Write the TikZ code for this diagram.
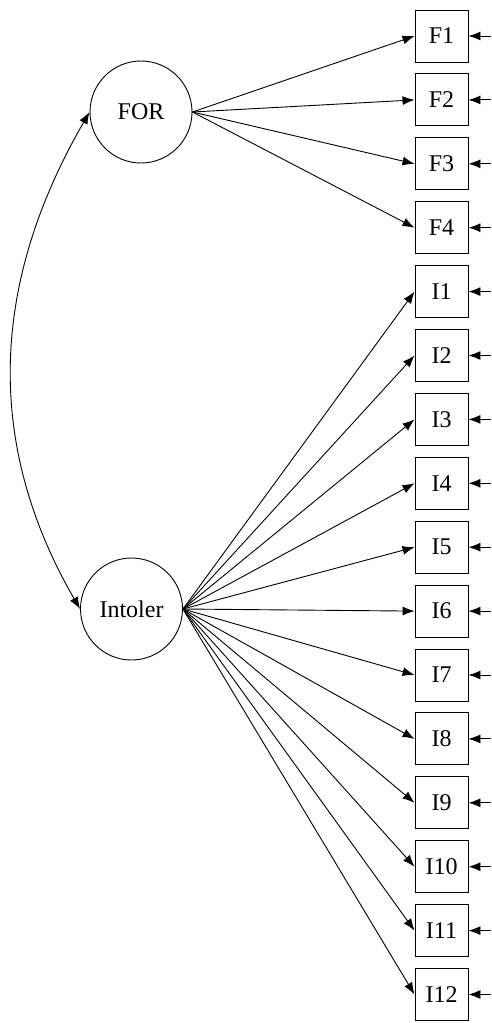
\documentclass[tikz,border=0pt]{standalone}
\usepackage{fontspec}
\setmainfont{Liberation Serif}
\usetikzlibrary{arrows.meta}

\begin{document}
\begin{tikzpicture}[x=1pt,y=-1pt,line width=0.9pt,
        latent/.style={circle,draw,minimum size=102pt,inner sep=0pt,font=\fontsize{24}{24}\selectfont},
        indicator/.style={rectangle,draw,minimum width=53pt,minimum height=52pt,inner sep=0pt,font=\fontsize{24}{24}\selectfont},
        >={Latex[length=12pt,width=9pt]}]
        \useasboundingbox (0,0) rectangle (491,1023);
        % latent factors
        \node[latent] (FOR) at (141,112) {FOR};
        \node[latent] (Intoler) at (131.5,609) {Intoler};
        \draw[<->] (FOR.west) to[out=240,in=120,looseness=1] (Intoler.west);
        % FOR items
        \foreach \i in {1,...,4} {
            \node[indicator] (F\i) at (441.5,{36+63.9*(\i-1)}) {F\i};
            \coordinate (eF\i) at (491,{36+63.9*(\i-1)});
            \draw[->] (FOR.east) -- (F\i.west);
            \draw[->] (eF\i) -- (F\i.east);
        }
        % Intoler items
        \foreach \i in {1,...,12} {
            \node[indicator] (I\i) at (441.5,{36+63.9*(\i+3)}) {I\i};
            \coordinate (eI\i) at (491,{36+63.9*(\i+3)});
            \draw[->] (Intoler.east) -- (I\i.west);
            \draw[->] (eI\i) -- (I\i.east);
        }
    \end{tikzpicture}
\end{document}
